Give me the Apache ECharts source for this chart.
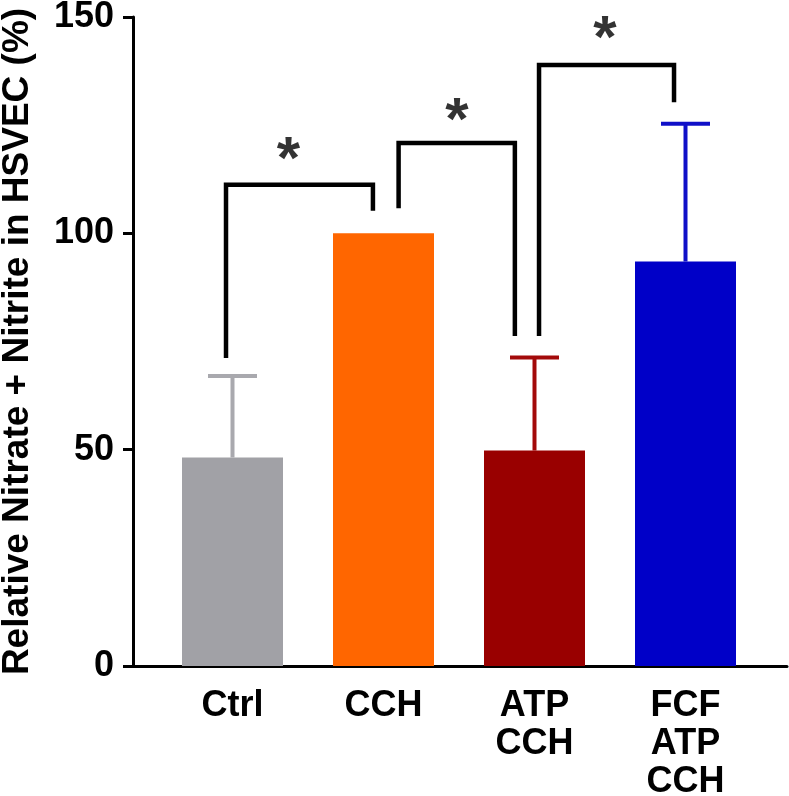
<!DOCTYPE html>
<html>
<head>
<meta charset="utf-8">
<script src="https://cdn.jsdelivr.net/npm/echarts@6/dist/echarts.min.js"></script>
<style>html,body{margin:0;padding:0;background:#fff;}#c{width:789px;height:796px;}</style>
</head>
<body>
<div id="c"></div>
<script>
const categories = ['Ctrl', 'CCH', 'ATP\nCCH', 'FCF\nATP\nCCH'];
const means = [48.2, 100, 49.8, 93.5];
const upperErr = [67.0, 100, 71.3, 125.3];
const barColors = ['#A1A1A6', '#FF6600', '#990000', '#0000C8'];
const errColors = ['#A9A9AE', '#FF6600', '#A30A0A', '#1010C8'];
const yTicks = [0, 50, 100, 150];
const bracket1 = [[-0.043, 71.2], [-0.043, 111.2], [0.93, 111.2], [0.93, 105.2]];
const bracket2 = [[1.10, 105.8], [1.10, 120.9], [1.87, 120.9], [1.87, 76.3]];
const bracket3 = [[2.03, 76.3], [2.03, 138.9], [2.924, 138.9], [2.924, 130.3]];
const stars = [[0.37, 119.3], [1.487, 128.5], [2.466, 147.4]];

const FONT = "'Liberation Sans', Arial, sans-serif";
const chart = echarts.init(document.getElementById('c'), null, {renderer: 'canvas'});

function bracketSeries(d) {
  return {
    type: 'line', xAxisIndex: 2, yAxisIndex: 1, data: d,
    symbol: 'none', silent: true, z: 5,
    lineStyle: {color: '#000', width: 4.5, join: 'miter', cap: 'butt'}
  };
}

chart.setOption({
  animation: false,
  backgroundColor: '#fff',
  grid: [
    {left: 133, right: 2, top: 17, bottom: 130, outerBoundsMode: 'none', containLabel: false},
    {left: 157, right: 28, top: 17, bottom: 130, outerBoundsMode: 'none', containLabel: false}
  ],
  xAxis: [
    {gridIndex: 0, type: 'value', min: 0, max: 1,
     axisLine: {show: true, onZero: false, lineStyle: {color: '#000', width: 3}},
     axisTick: {show: false}, axisLabel: {show: false}, splitLine: {show: false}},
    {gridIndex: 1, type: 'category', data: categories,
     axisLine: {show: false}, axisTick: {show: false}, splitLine: {show: false},
     axisLabel: {color: '#000', fontFamily: FONT, fontWeight: 'bold', fontSize: 36,
                 lineHeight: 38, margin: 21, interval: 0}},
    {gridIndex: 1, type: 'value', min: -0.5, max: 3.5, show: false}
  ],
  yAxis: [
    {gridIndex: 0, type: 'value', min: 0, max: 150, interval: 50,
     name: 'Relative Nitrate + Nitrite in HSVEC (%)', nameLocation: 'middle', nameGap: 97,
     nameTextStyle: {color: '#000', fontFamily: FONT, fontWeight: 'bold', fontSize: 37},
     axisLine: {show: true, lineStyle: {color: '#000', width: 3}},
     axisTick: {show: true, inside: false, length: 10, lineStyle: {color: '#000', width: 3}},
     axisLabel: {color: '#000', fontFamily: FONT, fontWeight: 'bold', fontSize: 36, margin: 19,
                 formatter: v => yTicks.includes(v) ? String(v) : ''},
     splitLine: {show: false}},
    {gridIndex: 1, type: 'value', min: 0, max: 150, interval: 50, show: false}
  ],
  series: [
    {
      type: 'custom', xAxisIndex: 1, yAxisIndex: 1, z: 2, silent: true,
      data: categories.map((c, i) => [i, means[i], upperErr[i]]),
      renderItem: function (params, api) {
        const i = api.value(0);
        if (api.value(2) <= api.value(1)) return null;
        const base = api.coord([i, api.value(1)]);
        const top = api.coord([i, api.value(2)]);
        const col = errColors[i];
        return {
          type: 'group',
          children: [
            {type: 'line', shape: {x1: base[0], y1: base[1], x2: top[0], y2: top[1]},
             style: {stroke: col, lineWidth: 4}},
            {type: 'line', shape: {x1: top[0] - 24.5, y1: top[1], x2: top[0] + 24.5, y2: top[1]},
             style: {stroke: col, lineWidth: 4}}
          ]
        };
      }
    },
    {
      type: 'bar', xAxisIndex: 1, yAxisIndex: 1, barWidth: 101, z: 3,
      data: means.map((v, i) => ({value: v, itemStyle: {color: barColors[i]}}))
    },
    bracketSeries(bracket1),
    bracketSeries(bracket2),
    bracketSeries(bracket3),
    {
      type: 'scatter', xAxisIndex: 2, yAxisIndex: 1, data: stars, symbolSize: 0, z: 6,
      label: {show: true, position: 'inside', formatter: '*', color: '#000',
              fontFamily: FONT, fontWeight: 'bold', fontSize: 60, offset: [0, 12]}
    }
  ]
});
</script>
</body>
</html>
